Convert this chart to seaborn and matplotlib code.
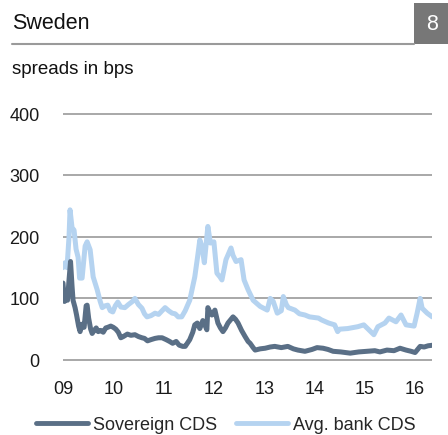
import matplotlib
matplotlib.use("Agg")
import matplotlib.pyplot as plt
import seaborn as sns
import pandas as pd

# Sovereign CDS spread (bps), decimal year
sov_year = [2009.00, 2009.03, 2009.06, 2009.09, 2009.12, 2009.15, 2009.18, 2009.20,
            2009.24, 2009.27, 2009.31, 2009.34, 2009.38, 2009.42, 2009.46, 2009.48,
            2009.51, 2009.55, 2009.58, 2009.62, 2009.66, 2009.70, 2009.75, 2009.80,
            2009.85, 2009.89, 2009.95, 2010.00, 2010.05, 2010.10, 2010.15, 2010.20,
            2010.28, 2010.35, 2010.43, 2010.50, 2010.57, 2010.62, 2010.68, 2010.75,
            2010.83, 2010.90, 2010.97, 2011.05, 2011.12, 2011.18, 2011.25, 2011.31,
            2011.38, 2011.43, 2011.52, 2011.58, 2011.62, 2011.67, 2011.72, 2011.78,
            2011.83, 2011.86, 2011.88, 2011.92, 2011.96, 2012.02, 2012.08, 2012.13,
            2012.18, 2012.23, 2012.28, 2012.34, 2012.38, 2012.43, 2012.48, 2012.55,
            2012.62, 2012.68, 2012.72, 2012.78, 2012.82, 2012.92, 2013.02, 2013.12,
            2013.21, 2013.34, 2013.47, 2013.58, 2013.67, 2013.81, 2013.95, 2014.05,
            2014.17, 2014.27, 2014.37, 2014.52, 2014.71, 2014.88, 2015.04, 2015.20,
            2015.30, 2015.44, 2015.58, 2015.70, 2015.82, 2015.92, 2016.00, 2016.06,
            2016.10, 2016.18, 2016.26, 2016.36]
sov_bps = [125, 95, 110, 97, 130, 160, 120, 97,
           85, 73, 55, 46, 58, 53, 88, 89,
           68, 50, 43, 48, 52, 46, 48, 45,
           52, 53, 55, 53, 50, 45, 36, 38,
           42, 40, 41, 38, 36, 35, 31, 33,
           35, 36, 36, 33, 30, 27, 30, 24,
           22, 22, 33, 45, 57, 60, 51, 64,
           55, 49, 85, 78, 73, 81, 60, 52,
           46, 52, 60, 66, 70, 66, 60, 48,
           38, 30, 27, 20, 16, 18, 19, 21,
           22, 20, 22, 18, 16, 14, 17, 20,
           19, 17, 14, 13, 11, 13, 14, 15,
           13, 16, 15, 19, 16, 14, 12, 18,
           22, 21, 23, 24]

# Average bank CDS spread (bps), decimal year
bank_year = [2009.00, 2009.04, 2009.08, 2009.12, 2009.14, 2009.18, 2009.22, 2009.26,
             2009.30, 2009.33, 2009.38, 2009.44, 2009.48, 2009.54, 2009.60, 2009.68,
             2009.74, 2009.78, 2009.84, 2009.89, 2009.94, 2009.99, 2010.04, 2010.09,
             2010.15, 2010.23, 2010.30, 2010.38, 2010.43, 2010.50, 2010.57, 2010.62,
             2010.67, 2010.75, 2010.83, 2010.90, 2010.97, 2011.03, 2011.10, 2011.17,
             2011.23, 2011.29, 2011.36, 2011.43, 2011.52, 2011.62, 2011.68, 2011.72,
             2011.76, 2011.81, 2011.86, 2011.88, 2011.93, 2012.00, 2012.06, 2012.12,
             2012.16, 2012.24, 2012.34, 2012.38, 2012.44, 2012.54, 2012.60, 2012.68,
             2012.78, 2012.92, 2013.06, 2013.12, 2013.18, 2013.26, 2013.34, 2013.38,
             2013.44, 2013.48, 2013.61, 2013.70, 2013.81, 2013.90, 2014.08, 2014.14,
             2014.28, 2014.40, 2014.46, 2014.50, 2014.66, 2014.86, 2014.98, 2015.08,
             2015.18, 2015.26, 2015.40, 2015.48, 2015.62, 2015.72, 2015.82, 2015.98,
             2016.04, 2016.10, 2016.14, 2016.24, 2016.34]
bank_bps = [150, 158, 150, 200, 244, 215, 211, 180,
            167, 133, 133, 185, 192, 179, 135, 114,
            95, 85, 88, 89, 80, 78, 88, 94,
            86, 85, 90, 95, 100, 90, 84, 75,
            70, 72, 76, 74, 80, 85, 80, 76,
            75, 70, 70, 80, 97, 135, 170, 195,
            185, 158, 200, 217, 190, 192, 141, 135,
            130, 163, 182, 170, 160, 163, 130, 114,
            97, 87, 81, 100, 95, 76, 80, 103,
            90, 85, 81, 75, 73, 70, 68, 65,
            60, 57, 46, 50, 51, 54, 57, 49,
            41, 54, 60, 68, 62, 73, 57, 55,
            76, 100, 84, 76, 70]

year_ticks = [2009, 2010, 2011, 2012, 2013, 2014, 2015, 2016]
year_labels = ["09", "10", "11", "12", "13", "14", "15", "16"]
y_ticks = [0, 100, 200, 300, 400]

series_names = ["Sovereign CDS", "Avg. bank CDS"]
colors = ["#5a6f86", "#b5d3f0"]

df = pd.concat([
    pd.DataFrame({"year": sov_year, "spread": sov_bps, "series": series_names[0]}),
    pd.DataFrame({"year": bank_year, "spread": bank_bps, "series": series_names[1]}),
], ignore_index=True)

sns.set_style("white")
plt.rcParams["font.family"] = ["Liberation Sans", "DejaVu Sans"]

fig = plt.figure(figsize=(4.48, 4.352), dpi=100)
ax = fig.add_axes([0.1406, 0.1697, 0.8237, 0.5710])

sns.lineplot(data=df, x="year", y="spread", hue="series", hue_order=series_names,
             palette=colors, linewidth=3.6, estimator=None, sort=False, ax=ax)
# sovereign line in front of the bank line
for ln, z in zip(ax.get_lines()[:2], [3, 2]):
    ln.set_zorder(z)
    ln.set_solid_capstyle("round")
    ln.set_solid_joinstyle("round")

ax.set_xlim(2009.0, 2016.336)
ax.set_ylim(-2, 402)
ax.set_xticks(year_ticks)
ax.set_xticklabels(year_labels)
ax.set_yticks(y_ticks)
ax.set_xlabel("")
ax.set_ylabel("")
for s in ax.spines.values():
    s.set_visible(False)
ax.grid(False)
for v in y_ticks:
    ax.axhline(v, color="#9a9a9a", linewidth=1.2, zorder=1)
ax.tick_params(axis="both", length=0, labelsize=13, colors="#1a1a1a")
ax.tick_params(axis="y", pad=17)
ax.tick_params(axis="x", pad=14)

sns.move_legend(ax, "center", bbox_to_anchor=(0.504, 0.023),
                bbox_transform=fig.transFigure, ncol=2, title=None, frameon=False,
                fontsize=13, handlelength=2.9, handletextpad=0.3,
                columnspacing=1.0, borderpad=0)
for h in ax.get_legend().get_lines():
    h.set_linewidth(3.5)

# header
fig.text(12 / 448, 1 - 23 / 435, "Sweden", fontsize=15.5, va="center", ha="left",
         color="#111111")
fig.add_artist(plt.Line2D([12 / 448, 414 / 448], [1 - 44.5 / 435, 1 - 44.5 / 435],
                          color="#9a9a9a", linewidth=1.5))
fig.add_artist(plt.Rectangle((414 / 448, 1 - 44 / 435), 34 / 448, 41 / 435,
                             color="#777777", linewidth=0))
fig.text(432 / 448, 1 - 24 / 435, "8", fontsize=15.5, va="center", ha="center",
         color="white")
fig.text(12 / 448, 1 - 69 / 435, "spreads in bps", fontsize=13.5, va="center",
         ha="left", color="#111111")

fig.savefig("out.png", dpi=100)
